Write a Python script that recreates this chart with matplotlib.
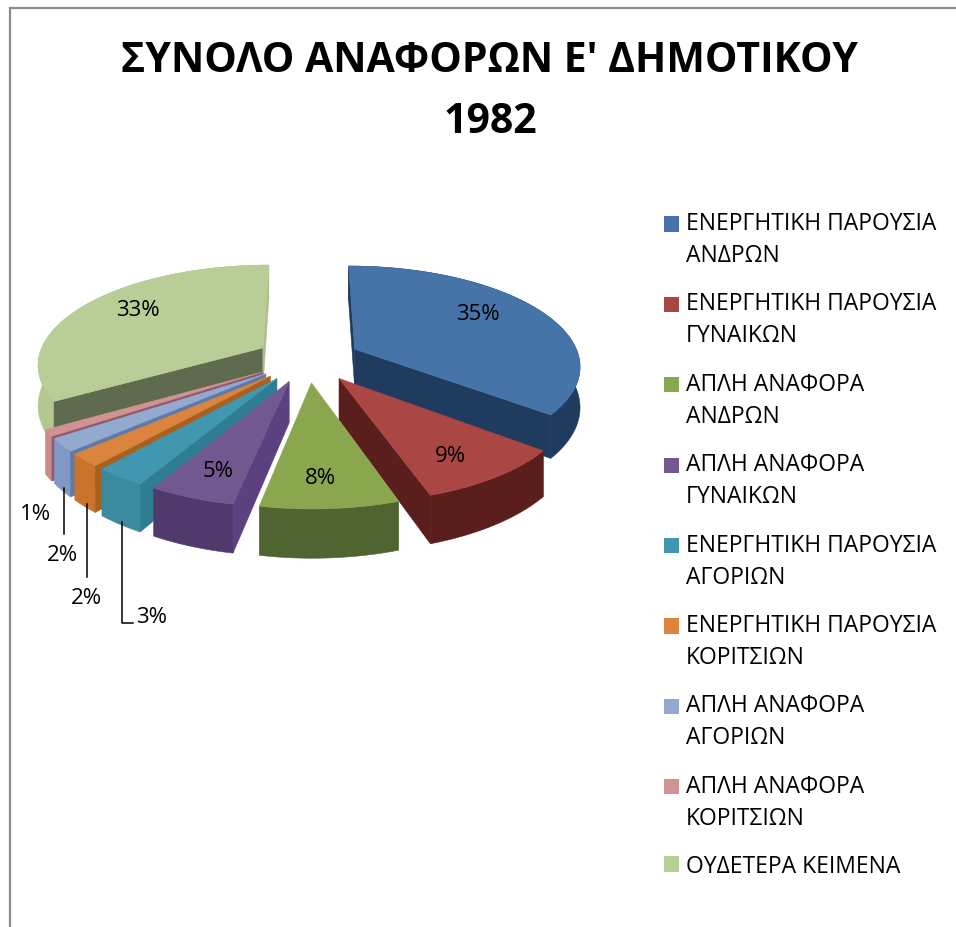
import numpy as np
import matplotlib
matplotlib.use("Agg")
import matplotlib.pyplot as plt
from matplotlib.patches import Polygon, Patch, Rectangle
from matplotlib.legend_handler import HandlerPatch

categories = ["ΕΝΕΡΓΗΤΙΚΗ ΠΑΡΟΥΣΙΑ\nΑΝΔΡΩΝ", "ΕΝΕΡΓΗΤΙΚΗ ΠΑΡΟΥΣΙΑ\nΓΥΝΑΙΚΩΝ",
              "ΑΠΛΗ ΑΝΑΦΟΡΑ\nΑΝΔΡΩΝ", "ΑΠΛΗ ΑΝΑΦΟΡΑ\nΓΥΝΑΙΚΩΝ",
              "ΕΝΕΡΓΗΤΙΚΗ ΠΑΡΟΥΣΙΑ\nΑΓΟΡΙΩΝ", "ΕΝΕΡΓΗΤΙΚΗ ΠΑΡΟΥΣΙΑ\nΚΟΡΙΤΣΙΩΝ",
              "ΑΠΛΗ ΑΝΑΦΟΡΑ\nΑΓΟΡΙΩΝ", "ΑΠΛΗ ΑΝΑΦΟΡΑ\nΚΟΡΙΤΣΙΩΝ", "ΟΥΔΕΤΕΡΑ ΚΕΙΜΕΝΑ"]
values = [35, 9, 8, 5, 3, 2, 2, 1, 33]
title = "ΣΥΝΟΛΟ ΑΝΑΦΟΡΩΝ Ε' ΔΗΜΟΤΙΚΟΥ\n1982"

top_colors = ["#4674a8", "#aa4644", "#8aa64e", "#71588f", "#4197af", "#db843d", "#93a9cf", "#d19392", "#b9cd96"]
rim_colors = ["#1f3b5e", "#5a1e1c", "#4f6430", "#4f3a6b", "#3a8aa0", "#c8742c", "#7f98c5", "#c98a88", "#b3c890"]
start_cut_colors = ["#1f3b5e", "#5a1e1c", "#4f6430", "#5b4180", "#2f7d92", "#a8601f", "#5f7aa8", "#8e5a70", "#5f6b4e"]
end_cut_colors = ["#1f3b5e", "#5a1e1c", "#4f6430", "#5b4180", "#2f7d92", "#a8601f", "#5f7aa8", "#8e5a70", "#aebf8f"]
draw_order = [8, 0, 7, 6, 5, 4, 3, 1, 2]
inside_labels = [0, 1, 2, 3, 8]
inside_label_x = [478, 450, 320, 218, 138]
inside_label_y = [315, 457, 479, 472, 311]
outside_labels = [4, 5, 6, 7]
outside_label_x = [152, 86, 62, 36]
outside_label_y = [618, 599, 556, 515]
leader_end_y = [624, 578, 535, None]

# projection of the tilted pie onto the page
CX, CY, R, VS, PERSP, DEPTH, EXPLODE = 308, 360, 225, 98.6, 0.153, 40, 0.234

def project(x, v, lower=False):
    f = 1.0 / (1.0 - PERSP * v)
    return CX + R * x * f, CY + VS * v * f + (DEPTH * f if lower else 0)

fractions = np.array(values, float) / sum(values)
edges = np.concatenate([[0], np.cumsum(fractions)]) * 2 * np.pi

plt.rcParams["font.family"] = ["Open Sans", "DejaVu Sans"]
fig = plt.figure(figsize=(9.56, 9.28), dpi=100, facecolor="white")
ax = fig.add_axes([0, 0, 1, 1])
ax.set_xlim(0, 956)
ax.set_ylim(928, 0)
ax.axis("off")

ax.plot([10, 10, 956], [928, 9, 9], color="#8c8c8c", lw=1.6, solid_joinstyle="miter")

def wedge_parts(i):
    a0, a1 = edges[i], edges[i + 1]
    mid = (a0 + a1) / 2
    ox, ov = EXPLODE * np.sin(mid), -EXPLODE * np.cos(mid)
    th = np.linspace(a0, a1, max(4, int(np.degrees(a1 - a0))))
    return ox, ov, ox + np.sin(th), ov - np.cos(th), mid

def area(p):
    p = np.asarray(p)
    x, y = p[:, 0], p[:, 1]
    return 0.5 * np.sum(x * np.roll(y, -1) - np.roll(x, -1) * y)

z = 1.0
for i in draw_order:
    ox, ov, rx, rv, mid = wedge_parts(i)
    up = np.array(project(rx, rv)).T
    lo = np.array(project(rx, rv, True)).T
    ap_u = np.array(project(ox, ov))
    ap_l = np.array(project(ox, ov, True))
    ax.add_patch(Polygon(np.vstack([up, lo[::-1]]), closed=True, fc=rim_colors[i], ec=rim_colors[i], lw=0.4, zorder=z))
    start = [ap_u, up[0], lo[0], ap_l]
    end = [ap_u, ap_l, lo[-1], up[-1]]
    if area(start) < 0:
        ax.add_patch(Polygon(start, closed=True, fc=start_cut_colors[i], ec=start_cut_colors[i], lw=0.4, zorder=z + 0.1))
    if area(end) < 0:
        ax.add_patch(Polygon(end, closed=True, fc=end_cut_colors[i], ec=end_cut_colors[i], lw=0.4, zorder=z + 0.1))
    ax.add_patch(Polygon(np.vstack([ap_u, up]), closed=True, fc=top_colors[i], ec=top_colors[i], lw=0.4, zorder=z + 0.2))
    z += 1

for i, px, py in zip(inside_labels, inside_label_x, inside_label_y):
    ax.text(px, py, f"{values[i]}%", ha="center", va="center", fontsize=16, color="black", zorder=20)

for i, tx, ty, ly in zip(outside_labels, outside_label_x, outside_label_y, leader_end_y):
    ox, ov, rx, rv, mid = wedge_parts(i)
    ax.text(tx, ty, f"{values[i]}%", ha="center", va="center", fontsize=16, color="black", zorder=20)
    if ly is not None:
        ax_x, ax_y = project(ox + np.sin(mid), ov - np.cos(mid), True)
        ax_x += 2
        xs = [ax_x, ax_x] + ([tx - 19] if i == outside_labels[0] else [])
        ys = [ax_y - 2, ly] + ([ly] if i == outside_labels[0] else [])
        ax.plot(xs, ys, color="black", lw=1.1, zorder=19)

ax.text(490, 92, title, ha="center", va="center", fontsize=29.5, fontweight="bold",
        linespacing=1.62, color="black")

FS = 16.5

def first_line_handle(legend, orig_handle, xdescent, ydescent, width, height, fontsize):
    shift = 11.5 if "\n" in orig_handle.get_label() else 0
    return Rectangle((-xdescent, -ydescent + shift), width, height)

handles = [Patch(facecolor=c, edgecolor="none", label=lab) for c, lab in zip(top_colors, categories)]
leg = ax.legend(handles=handles, loc="upper left", bbox_to_anchor=(664 / 956, 1 - 212 / 928),
                bbox_transform=fig.transFigure, frameon=False, fontsize=FS, handlelength=0.65,
                handleheight=0.65, handletextpad=0.3, labelspacing=1.06, borderpad=0, borderaxespad=0,
                handler_map={Patch: HandlerPatch(patch_func=first_line_handle)})
for t in leg.get_texts():
    t.set_linespacing(1.45)

fig.savefig("out.png", dpi=100)
